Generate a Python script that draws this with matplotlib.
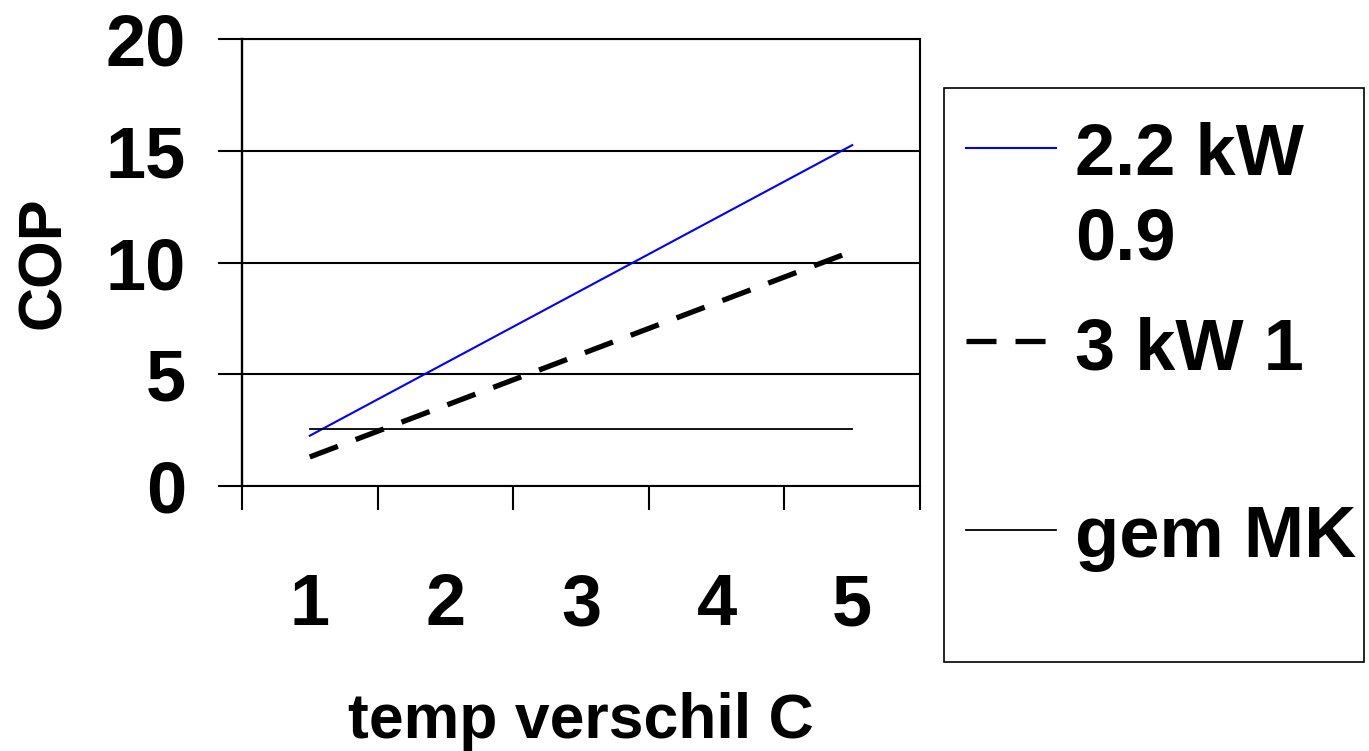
import matplotlib
matplotlib.use('Agg')
import matplotlib.pyplot as plt
from matplotlib.lines import Line2D
from matplotlib.patches import Rectangle
import numpy as np

# ---- data ----
categories = [1, 2, 3, 4, 5]
cop_22kw = [2.25, 5.5, 8.75, 12.0, 15.25]
cop_3kw = [1.3, 3.6, 5.9, 8.2, 10.5]
gem_mk = [2.55, 2.55, 2.55, 2.55, 2.55]
series_labels = ['2.2 kW\n0.9', '3 kW 1', 'gem MK']
y_ticks = [0, 5, 10, 15, 20]
x_title = 'temp verschil C'
y_title = 'COP'

plt.rcParams['font.family'] = ['Liberation Sans', 'DejaVu Sans']
plt.rcParams['font.weight'] = 'bold'
plt.rcParams['axes.labelweight'] = 'bold'
plt.rcParams['lines.scale_dashes'] = False

W, H = 1369, 751
fig = plt.figure(figsize=(W / 100, H / 100), dpi=100)


def fx(px):
    return px / W


def fy(py):
    return 1 - py / H


ax = fig.add_axes([fx(242), fy(486), 678 / W, 447 / H])
x = np.arange(1, len(categories) + 1)

styles = [
    dict(color='#0000FF', lw=1.5, linestyle='-'),
    dict(color='black', lw=3.8, linestyle=(0, (21.6, 13.7))),
    dict(color='black', lw=1.3, linestyle='-'),
]
for vals, st in zip([cop_22kw, cop_3kw, gem_mk], styles):
    ax.plot(x, vals, **st, zorder=3)

ax.set_xlim(0.5, len(categories) + 0.5)
ax.set_ylim(0, 20)
ax.set_yticks(y_ticks)
ax.set_yticklabels([str(v) for v in y_ticks])
ax.set_xticks(np.arange(0.5, len(categories) + 0.6, 1))
ax.set_xticklabels([])
ax.set_xticks(x, minor=True)
ax.set_xticklabels([str(c) for c in categories], minor=True)
ax.tick_params(axis='x', which='major', direction='out', length=17.3, width=1.5)
ax.tick_params(axis='x', which='minor', length=0, pad=62, labelsize=52)
ax.tick_params(axis='y', direction='out', length=17.3, width=1.5, pad=23, labelsize=52)
ax.yaxis.grid(True, color='black', lw=1.5)
ax.set_axisbelow(True)
for s in ax.spines.values():
    s.set_linewidth(1.5)
    s.set_color('black')
ax.spines['left'].set_linewidth(1.7)

ax.set_xlabel(x_title, fontsize=45, fontweight='bold', va='center')
ax.xaxis.set_label_coords(0.5, -0.527)
ax.set_ylabel(y_title, fontsize=44, fontweight='bold', va='center')
ax.yaxis.set_label_coords(-0.2913, 0.5)

# ---- legend (Excel style: marker aligned with first text line) ----
fig.patches.append(Rectangle((fx(944), fy(662)), fx(1364) - fx(944), fy(88) - fy(662),
                             transform=fig.transFigure, fill=False, ec='black', lw=1.2))
handle_y = [148, 341, 530]
base_y = [175, 369, 557]
for lab, st, hy, by in zip(series_labels, styles, handle_y, base_y):
    fig.add_artist(Line2D([fx(966), fx(1056)], [fy(hy), fy(hy)], transform=fig.transFigure, **st))
    for i, line in enumerate(lab.split('\n')):
        fig.text(fx(1075), fy(by + 85 * i), line, fontsize=52, ha='left', va='baseline')

fig.savefig('out.png', dpi=100)
